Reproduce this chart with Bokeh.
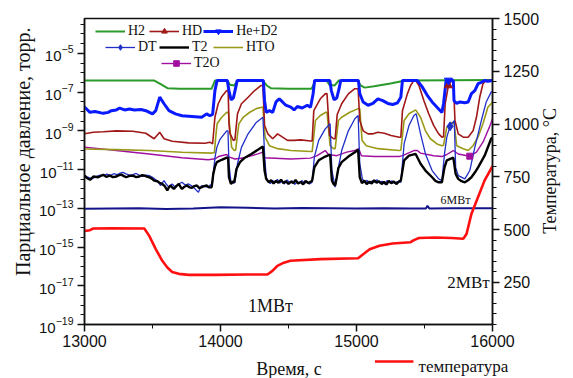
from math import pi

from bokeh.embed import file_html
from bokeh.layouts import column
from bokeh.models import (FixedTicker, Label, Legend, LegendItem, LinearAxis,
                          LinearScale, Range1d, Title)
from bokeh.plotting import figure
from bokeh.resources import INLINE

# ---------------------------------------------------------------- data
# partial pressures, torr (left, log axis)
h2_t = [13000, 13510, 13560, 13610, 13700, 13935, 13960, 14050, 14070, 14100,
        14130, 14310, 14340, 14370, 14500, 14670, 14700, 14780, 14800, 14840,
        14870, 15010, 15030, 15060, 15130, 15250, 15340, 15380, 16000]
h2_p = [4.0e-7, 4.0e-7, 2.6e-7, 1.6e-7, 1.5e-7, 1.5e-7, 4.0e-7, 4.0e-7, 2.4e-7, 2.2e-7,
        4.0e-7, 4.0e-7, 2.2e-7, 1.6e-7, 1.5e-7, 1.5e-7, 4.0e-7, 4.0e-7, 2.4e-7, 2.2e-7,
        4.0e-7, 4.0e-7, 2.2e-7, 1.7e-7, 2.0e-7, 2.8e-7, 3.7e-7, 4.0e-7, 4.2e-7]

hd_t = [13000, 13065, 13138, 13234, 13355, 13451, 13512, 13553, 13585, 13645,
        13766, 13886, 13922, 13942, 13959, 13983, 14010, 14046, 14056, 14063,
        14070, 14094, 14106, 14125, 14154, 14203, 14251, 14299, 14312, 14324,
        14348, 14384, 14420, 14456, 14493, 14541, 14589, 14662, 14674, 14686,
        14734, 14770, 14783, 14802, 14831, 14843, 14858, 14891, 14940, 14988,
        15012, 15024, 15049, 15085, 15121, 15157, 15205, 15254, 15314, 15326,
        15338, 15374, 15398, 15422, 15435, 15459, 15495, 15531, 15567, 15604,
        15628, 15640, 15652, 15676, 15700, 15712, 15724, 15748, 15785, 15821,
        15857, 15882, 15906, 15930, 15954, 16000]
hd_p = [7.0e-10, 8.5e-10, 9.0e-10, 1.0e-9, 9.5e-10, 7.5e-10, 3.9e-10, 8.5e-10, 3.9e-10, 2.9e-10,
        2.4e-10, 2.3e-10, 2.6e-10, 2.1e-10, 5e-9, 2.5e-8, 6e-8, 1.2e-7, 1.2e-7, 2e-9,
        7.2e-10, 3.2e-10, 3.5e-10, 7.6e-9, 2.5e-8, 5.4e-8, 1.2e-7, 2.2e-7, 2.2e-7, 1.9e-9,
        7.0e-10, 3.9e-10, 7.0e-10, 4.7e-10, 3.2e-10, 3.2e-10, 3.4e-10, 3.0e-10, 3.0e-10, 1.1e-8,
        4.5e-8, 8.1e-8, 8.5e-8, 5.8e-10, 3.9e-10, 3.9e-10, 7e-9, 2.5e-8, 8.1e-8, 1.5e-7,
        1.5e-7, 3.4e-9, 1.0e-9, 7.0e-10, 7.0e-10, 8.5e-10, 7.5e-10, 5.8e-10, 4.7e-10, 4.7e-10,
        1.1e-8, 8.1e-8, 2.2e-7, 4e-7, 4e-7, 2.2e-7, 3.7e-8, 7.6e-9, 1.9e-9, 7.0e-10,
        4.7e-10, 5e-10, 2.5e-8, 2.2e-7, 4e-7, 4e-7, 3.4e-9, 7.0e-10, 4.7e-10, 4.7e-10,
        1.0e-9, 5e-9, 5.4e-8, 2.7e-7, 4e-7, 4e-7]

hed2_t = [13000, 13040, 13077, 13138, 13174, 13198, 13234, 13259, 13295, 13331,
          13367, 13415, 13451, 13500, 13524, 13553, 13585, 13621, 13669, 13717,
          13790, 13862, 13898, 13922, 13942, 13959, 13975, 14050, 14062, 14078,
          14095, 14110, 14123, 14315, 14324, 14336, 14360, 14384, 14408, 14432,
          14456, 14480, 14517, 14541, 14565, 14601, 14638, 14662, 14681, 14692,
          14804, 14815, 14835, 14855, 14872, 14884, 15014, 15024, 15049, 15085,
          15121, 15157, 15193, 15230, 15266, 15302, 15326, 15338, 15447, 15483,
          15519, 15556, 15592, 15616, 15628, 15640, 15659, 15712, 15717, 15737,
          15761, 15797, 15821, 15845, 15870, 15894, 15918, 15942, 15966, 16000]
hed2_p = [1.7e-8, 9e-9, 1.0e-8, 8e-9, 9e-9, 1.1e-8, 1.2e-8, 1.5e-8, 1.2e-8, 1.35e-8,
          1.2e-8, 1.25e-8, 1.1e-8, 7.5e-9, 1.1e-8, 5.5e-8, 2.5e-8, 1.1e-8, 7.5e-9, 6e-9,
          5.5e-9, 5e-9, 7.5e-9, 6e-9, 7e-9, 1.2e-7, 4e-7, 4e-7, 1.2e-7, 4e-8,
          5e-8, 1.5e-7, 4e-7, 4e-7, 3.6e-8, 9e-9, 1.1e-8, 9e-9, 3.1e-8, 4.5e-8,
          3.1e-8, 2.1e-8, 1.66e-8, 1.2e-8, 1.8e-8, 1.5e-8, 2.1e-8, 1.66e-8, 8.3e-8, 4e-7,
          4e-7, 1.2e-7, 4e-8, 5e-8, 1.5e-7, 4e-7, 4e-7, 8.3e-8, 3.1e-8, 2.1e-8,
          2.6e-8, 4.5e-8, 3.6e-8, 2.6e-8, 2.3e-8, 2.8e-8, 5.5e-8, 4e-7, 4e-7, 1.86e-7,
          7e-8, 3.1e-8, 1.66e-8, 1.1e-8, 9e-9, 2.5e-8, 4e-7, 4e-7, 3.6e-8, 2.6e-8,
          3.1e-8, 2.8e-8, 3.1e-8, 8.3e-8, 1.2e-7, 2.7e-7, 3.2e-7, 4e-7, 3.6e-7, 4e-7]

dt_t = [13000, 13020, 13053, 13089, 13115, 13138, 13165, 13190, 13215, 13240,
        13262, 13283, 13305, 13330, 13355, 13380, 13405, 13428, 13452, 13476,
        13500, 13524, 13545, 13560, 13575, 13585, 13600, 13621, 13633, 13645,
        13663, 13681, 13700, 13717, 13740, 13766, 13790, 13814, 13826, 13838,
        13850, 13862, 13885, 13910, 13925, 13939, 13949, 13960, 13973, 13995,
        14009, 14046, 14055, 14062, 14077, 14094, 14106, 14125, 14154, 14203,
        14263, 14312, 14324, 14336, 14350, 14366, 14383, 14400, 14418, 14436,
        14453, 14470, 14490, 14508, 14527, 14545, 14563, 14580, 14600, 14618,
        14636, 14655, 14674, 14690, 14722, 14770, 14806, 14819, 14843, 14867,
        14891, 14940, 14988, 15012, 15024, 15043, 15060, 15078, 15096, 15115,
        15133, 15150, 15170, 15188, 15206, 15225, 15243, 15262, 15280, 15300,
        15326, 15350, 15386, 15422, 15439, 15471, 15507, 15556, 15604, 15628,
        15647, 15664, 15688, 15719, 15729, 15748, 15797, 15833, 15870, 15918,
        15954, 15990, 16000]
dt_p = [4.9e-12, 4.2e-12, 3.3e-12, 4.4e-12, 5.2e-12, 4.9e-12, 5.8e-12, 5.0e-12, 6.1e-12, 5.4e-12,
        6.5e-12, 7.2e-12, 6.0e-12, 5.1e-12, 5.5e-12, 6.3e-12, 5.0e-12, 4.4e-12, 5.2e-12, 4.9e-12,
        4.0e-12, 2.95e-12, 2.1e-12, 1.5e-12, 2.2e-12, 2.7e-12, 1.8e-12, 1.23e-12, 1.6e-12, 1.8e-12,
        1.3e-12, 1.5e-12, 1.9e-12, 2.2e-12, 1.6e-12, 1.8e-12, 1.4e-12, 1.0e-12, 8e-13, 6.8e-13,
        1.1e-12, 1.5e-12, 1.3e-12, 1.23e-12, 1.6e-12, 1.5e-12, 8.9e-12, 4.4e-11, 1.4e-10, 3.5e-10,
        4.7e-10, 1.0e-9, 1.0e-9, 2.0e-11, 2.2e-12, 2.0e-12, 2.2e-12, 2.0e-11, 1.4e-10, 7.0e-10,
        2.7e-9, 5.0e-9, 6.4e-11, 4.0e-12, 2.5e-12, 1.9e-12, 2.7e-12, 2.2e-12, 3.1e-12, 2.0e-12,
        2.6e-12, 1.8e-12, 2.9e-12, 2.1e-12, 2.6e-12, 1.7e-12, 2.4e-12, 2.0e-12, 2.7e-12, 1.9e-12,
        2.5e-12, 1.8e-12, 2.2e-12, 4.4e-11, 3.2e-10, 1.26e-9, 2.3e-9, 8.9e-12, 1.23e-12, 1.3e-11,
        9.6e-11, 1.0e-9, 4.2e-9, 6.2e-9, 2.0e-11, 3.3e-12, 2.1e-12, 2.8e-12, 1.9e-12, 2.6e-12,
        2.2e-12, 3.0e-12, 2.0e-12, 2.5e-12, 1.8e-12, 2.7e-12, 2.1e-12, 2.6e-12, 1.9e-12, 2.4e-12,
        2.2e-12, 2.1e-10, 1.9e-9, 6.2e-9, 7.6e-9, 7.0e-10, 6.4e-11, 8.9e-12, 3.3e-12, 2.7e-12,
        6.4e-11, 4.7e-10, 1.7e-9, 3.4e-9, 1.3e-11, 4.9e-12, 3.3e-12, 8.9e-12, 1.4e-10, 3.4e-9,
        3.1e-8, 1.0e-7, 1.1e-7]

t2_t = [13000, 13017, 13041, 13065, 13101, 13138, 13160, 13186, 13210, 13234,
        13250, 13270, 13290, 13307, 13330, 13355, 13380, 13403, 13420, 13440,
        13460, 13476, 13495, 13512, 13536, 13555, 13572, 13590, 13609, 13620,
        13633, 13645, 13657, 13675, 13693, 13705, 13717, 13735, 13754, 13772,
        13790, 13808, 13826, 13845, 13862, 13880, 13898, 13915, 13935, 13947,
        13960, 13973, 14009, 14046, 14056, 14062, 14077, 14090, 14101, 14118,
        14143, 14179, 14227, 14275, 14312, 14324, 14336, 14355, 14372, 14390,
        14408, 14425, 14445, 14462, 14480, 14500, 14518, 14535, 14552, 14570,
        14590, 14608, 14625, 14645, 14665, 14674, 14690, 14722, 14770, 14806,
        14819, 14831, 14843, 14855, 14867, 14891, 14940, 14988, 15012, 15024,
        15040, 15058, 15075, 15095, 15112, 15130, 15148, 15166, 15185, 15202,
        15220, 15238, 15256, 15275, 15295, 15314, 15326, 15350, 15386, 15435,
        15471, 15507, 15556, 15580, 15604, 15628, 15647, 15664, 15712, 15729,
        15748, 15772, 15797, 15820, 15845, 15870, 15894, 15942, 15990, 16000]
t2_p = [4.9e-12, 3.7e-12, 2.95e-12, 4.4e-12, 4.0e-12, 5.4e-12, 4.2e-12, 4.9e-12, 4.1e-12, 4.4e-12,
        5.0e-12, 5.5e-12, 4.6e-12, 4.0e-12, 4.7e-12, 4.8e-12, 4.1e-12, 4.4e-12, 5.1e-12, 4.9e-12,
        4.3e-12, 4.0e-12, 3.4e-12, 2.7e-12, 2.5e-12, 2.0e-12, 1.8e-12, 1.4e-12, 8.3e-13, 1.2e-12,
        1.5e-12, 1.2e-12, 1.0e-12, 1.4e-12, 1.8e-12, 1.3e-12, 1.0e-12, 1.3e-12, 1.5e-12, 1.2e-12,
        1.15e-12, 1.4e-12, 1.5e-12, 1.1e-12, 1.23e-12, 1.4e-12, 1.5e-12, 1.2e-12, 1.23e-12, 6.0e-12,
        1.5e-11, 2.4e-11, 3.2e-11, 4.1e-11, 4.1e-11, 4.0e-12, 1.8e-12, 2.4e-12, 2.2e-12, 1.1e-11,
        2.4e-11, 4.1e-11, 6.4e-11, 1.05e-10, 1.55e-10, 8.9e-12, 3.3e-12, 2.2e-12, 2.8e-12, 1.9e-12,
        2.6e-12, 2.1e-12, 3.0e-12, 2.0e-12, 2.5e-12, 1.8e-12, 2.4e-12, 2.0e-12, 2.9e-12, 1.9e-12,
        2.3e-12, 1.7e-12, 2.6e-12, 2.0e-12, 2.4e-12, 2.7e-12, 1.3e-11, 3.0e-11, 4.7e-11, 6.0e-11,
        2.7e-12, 1.8e-12, 1.5e-12, 4e-12, 1.2e-11, 2.4e-11, 4.7e-11, 7.9e-11, 1.05e-10, 4.0e-12,
        2.0e-12, 2.7e-12, 1.8e-12, 2.4e-12, 1.9e-12, 2.8e-12, 2.1e-12, 2.5e-12, 1.8e-12, 2.3e-12,
        1.7e-12, 2.6e-12, 2.0e-12, 2.4e-12, 1.8e-12, 2.5e-12, 2.7e-12, 3.0e-11, 5.2e-11, 6.4e-11,
        2.0e-11, 8.9e-12, 4.0e-12, 2.6e-12, 2.2e-12, 2.2e-12, 1.3e-11, 3.0e-11, 4.1e-11, 6.0e-12,
        3.3e-12, 2.5e-12, 2.2e-12, 2.8e-12, 4.0e-12, 7e-12, 1.3e-11, 5.2e-11, 3.9e-10, 4.5e-10]

hto_t = [13000, 13234, 13476, 13717, 13935, 13955, 13965, 13975, 14009, 14046,
         14058, 14082, 14101, 14111, 14135, 14167, 14215, 14263, 14304, 14312,
         14328, 14360, 14420, 14517, 14662, 14674, 14698, 14734, 14775, 14783,
         14806, 14831, 14843, 14867, 14891, 14951, 15012, 15024, 15041, 15072,
         15157, 15314, 15326, 15350, 15386, 15435, 15471, 15507, 15543, 15592,
         15628, 15640, 15664, 15700, 15717, 15737, 15785, 15821, 15857, 15893,
         15930, 15966, 16000]
hto_p = [1.15e-10, 1.07e-10, 9.6e-11, 7.9e-11, 7.1e-11, 7.5e-11, 5e-10, 2.3e-9, 5.0e-9, 9.1e-9,
         9.0e-9, 1.4e-10, 9.6e-11, 1.0e-10, 2.3e-9, 5.0e-9, 9.1e-9, 1.4e-8, 1.66e-8, 1.66e-8,
         4.7e-10, 1.7e-10, 1.2e-10, 9.6e-11, 8.5e-11, 8.5e-11, 3.4e-9, 6.2e-9, 9.1e-9, 9.1e-9,
         1.7e-10, 1.2e-10, 1.2e-10, 3.4e-9, 5.0e-9, 9.1e-9, 1.4e-8, 1.4e-8, 3.2e-10, 1.7e-10,
         1.2e-10, 9.6e-11, 1.0e-10, 3.4e-9, 7.6e-9, 1.2e-8, 5.0e-9, 1.0e-9, 3.9e-10, 2.1e-10,
         1.7e-10, 1.8e-10, 1.55e-9, 2.7e-9, 2.7e-9, 1.7e-10, 1.2e-10, 9.6e-11, 1.7e-10, 4.7e-10,
         2.3e-9, 1.66e-8, 3.0e-8]

t2o_t = [13000, 13234, 13476, 13717, 13910, 13959, 13985, 14046, 14060, 14106,
         14178, 14275, 14312, 14324, 14517, 14662, 14710, 14770, 14794, 14855,
         14891, 14928, 14988, 15017, 15036, 15133, 15314, 15338, 15422, 15447,
         15471, 15567, 15628, 15664, 15712, 15748, 15833, 15882, 15930, 15978,
         16000]
t2o_p = [1.45e-10, 9.6e-11, 6.4e-11, 4.1e-11, 3.2e-11, 3.6e-11, 4.7e-11, 6.0e-11, 4.5e-11, 3.5e-11,
         4.1e-11, 6.4e-11, 7.9e-11, 4.1e-11, 3.5e-11, 3.9e-11, 5.2e-11, 9.6e-11, 6.0e-11, 5.2e-11,
         6.4e-11, 7.9e-11, 9.6e-11, 1.2e-10, 5.2e-11, 4.7e-11, 4.7e-11, 5.2e-11, 9.6e-11, 9.6e-11,
         7.1e-11, 5.2e-11, 4.7e-11, 6.0e-11, 9.6e-11, 6.4e-11, 4.9e-11, 7.9e-11, 2.6e-10, 1.6e-9,
         4.2e-9]

# symbol positions along the curves
hd_mark_t, hd_mark_p = [15676], [2.2e-7]
hed2_mark_t, hed2_mark_p = [15676], [4e-7]
dt_mark_t, dt_mark_p = [15688], [1.7e-9]
t2o_mark_t, t2o_mark_p = [15833], [4.9e-11]

# right axis, degrees C
level_t = [13000, 13200, 13400, 13600, 13800, 14000, 14200, 14400, 14600, 14800,
           15000, 15200, 15400, 15510, 15522, 15535, 15700, 16000]
level_v = [598, 600, 601, 597, 600, 606, 603, 600, 602, 601,
           600, 601, 600, 600, 612, 600, 601, 601]

temp_t = [13000, 13040, 13065, 13200, 13440, 13476, 13524, 13572, 13609, 13645,
          13693, 13766, 13959, 14200, 14345, 14382, 14418, 14466, 14514, 14734,
          15012, 15049, 15097, 15169, 15266, 15398, 15422, 15459, 15580, 15700,
          15785, 15809, 15845, 15894, 15942, 16000]
temp_v = [493, 497, 505, 506, 505, 470, 407, 352, 320, 299,
          290, 285, 285, 287, 287, 304, 328, 343, 352, 360,
          364, 383, 407, 423, 434, 440, 450, 460, 462, 460,
          456, 479, 574, 654, 733, 800]

x_ticks = [13000, 14000, 15000, 16000]
x_minor = [13500, 14500, 15500]
p_ticks = [10.0 ** e for e in range(-19, -4, 2)]
p_minor = [10.0 ** (k / 2) for k in range(-38, -5)]
t_ticks = [250, 500, 750, 1000, 1250, 1500]
t_minor = list(range(50, 1501, 50))

SERIF = "Liberation Serif"
SANS = "Liberation Sans"
INK = "#111111"
C_H2, C_HD, C_HED2 = "#2a9a2a", "#a01818", "#0a1aff"
C_DT, C_T2, C_HTO, C_T2O = "#1f2fc8", "black", "#9a9a18", "#a010a0"
C_LEVEL, C_TEMP = "#14148a", "#ff1010"

# layout constants (pixels)
LEFT, RIGHT = 84, 76           # side borders shared by both rows
TITLE_START_T = 480            # temperature level where the right title begins
STRIP_H = 24                   # height of the row under the time axis
KEY_X, KEY_Y = (378, 417), 17  # temperature key swatch inside that row

# ---------------------------------------------------------------- main plot
p = figure(width=573, height=378 - STRIP_H, output_backend="svg",
           toolbar_location=None,
           x_range=Range1d(13000, 16000), y_range=Range1d(1e-19, 10 ** -3.2),
           y_axis_type="log",
           min_border_left=LEFT, min_border_right=RIGHT, min_border_top=18,
           min_border_bottom=30)
p.extra_y_ranges = {"temp": Range1d(50, 1500)}
p.extra_y_scales = {"temp": LinearScale()}
p.grid.visible = False
p.outline_line_color = INK
p.outline_line_width = 1.5

right = LinearAxis(y_range_name="temp")
p.add_layout(right, "right")

p.xaxis[0].ticker = FixedTicker(ticks=x_ticks, minor_ticks=x_minor)
p.yaxis[0].ticker = FixedTicker(ticks=p_ticks, minor_ticks=p_minor)
right.ticker = FixedTicker(ticks=t_ticks, minor_ticks=t_minor)

for ax in (p.xaxis[0], p.yaxis[0], right):
    ax.axis_line_width = 1.5
    ax.axis_line_color = INK
    ax.major_tick_line_width = 1.5
    ax.major_tick_line_color = INK
    ax.minor_tick_line_width = 1
    ax.minor_tick_line_color = INK
    ax.major_tick_in = 0
    ax.major_tick_out = 7
    ax.minor_tick_in = 0
    ax.minor_tick_out = 4
    ax.major_label_text_font = SANS
    ax.major_label_text_font_size = "16px"
    ax.major_label_text_color = INK
    ax.major_label_standoff = 4
p.yaxis[0].major_label_text_font_size = "15px"
p.xaxis[0].major_label_standoff = 3


def text_axis(ticks, labels, size, standoff, **kw):
    """An axis without line or ticks that only carries text labels."""
    return LinearAxis(ticker=FixedTicker(ticks=ticks, minor_ticks=[]),
                      major_label_overrides=dict(zip(ticks, labels)),
                      axis_line_color=None, major_tick_line_color=None,
                      minor_tick_line_color=None, major_tick_out=0,
                      minor_tick_out=0, major_label_standoff=standoff,
                      major_label_text_font=SERIF,
                      major_label_text_font_size=size,
                      major_label_text_color=INK, **kw)


# right axis title, reading upwards
p.add_layout(text_axis([TITLE_START_T], ["Температура, °C"], "18px", 8,
                       y_range_name="temp", major_label_orientation=pi / 2),
             "right")

# left axis title
p.add_layout(Title(text="Парциальное давление, торр.", align="right", offset=9,
                   vertical_align="middle", standoff=4, text_font=SERIF,
                   text_font_size="20px", text_font_style="normal",
                   text_color=INK), "left")

# ---------------------------------------------------------------- curves
r_h2 = p.line(h2_t, h2_p, line_color=C_H2, line_width=2)
r_t2o = p.line(t2o_t, t2o_p, line_color=C_T2O, line_width=1.4)
r_hto = p.line(hto_t, hto_p, line_color=C_HTO, line_width=1.6)
r_hd = p.line(hd_t, hd_p, line_color=C_HD, line_width=1.6)
r_dt = p.line(dt_t, dt_p, line_color=C_DT, line_width=1.3)
r_t2 = p.line(t2_t, t2_p, line_color=C_T2, line_width=2.4)
r_hed2 = p.line(hed2_t, hed2_p, line_color=C_HED2, line_width=3)
p.line(level_t, level_v, line_color=C_LEVEL, line_width=2, y_range_name="temp")
p.line(temp_t, temp_v, line_color=C_TEMP, line_width=2.6, y_range_name="temp")

m_h2 = p.scatter([], [], marker="circle", size=7, fill_color=C_H2, line_color=C_H2)
m_hd = p.scatter(hd_mark_t, hd_mark_p, marker="triangle", size=8,
                 fill_color=C_HD, line_color=C_HD)
m_hed2 = p.scatter(hed2_mark_t, hed2_mark_p, marker="inverted_triangle", size=8,
                   fill_color=C_HED2, line_color=C_HED2)
m_dt = p.scatter(dt_mark_t, dt_mark_p, marker="diamond", size=9,
                 fill_color=C_DT, line_color=C_DT)
m_t2 = p.scatter([], [], marker="triangle", angle=pi / 2, size=8,
                 fill_color=C_T2, line_color=C_T2)
m_t2o = p.scatter(t2o_mark_t, t2o_mark_p, marker="square", size=6,
                  fill_color=C_T2O, line_color=C_T2O)


def make_legend(items, loc):
    return Legend(items=items, location=loc, orientation="horizontal",
                  glyph_width=30, glyph_height=14, label_height=14,
                  label_standoff=3, spacing=1, padding=0, margin=0,
                  label_text_font=SERIF, label_text_font_size="14px",
                  label_text_color=INK,
                  background_fill_alpha=0, border_line_alpha=0)


p.add_layout(make_legend([LegendItem(label="H2", renderers=[r_h2, m_h2]),
                          LegendItem(label="HD", renderers=[r_hd, m_hd]),
                          LegendItem(label="He+D2", renderers=[r_hed2, m_hed2])],
                         (11, 285)))
p.add_layout(make_legend([LegendItem(label="DT", renderers=[r_dt, m_dt]),
                          LegendItem(label="T2", renderers=[r_t2, m_t2]),
                          LegendItem(label="HTO", renderers=[r_hto])],
                         (21, 269)))
p.add_layout(make_legend([LegendItem(label="T2O", renderers=[r_t2o, m_t2o])],
                         (77, 253)))


def add_text(fig, x, y, text, size, units="screen"):
    fig.add_layout(Label(x=x, y=y, x_units=units, y_units=units, text=text,
                         text_font=SERIF, text_font_size=size, text_color=INK,
                         text_align="center", text_baseline="middle"))


add_text(p, 186, 19, "1МВт", "18px")
add_text(p, 384, 42, "2МВт", "17px")
add_text(p, 371, 125, "6МВт", "12px")

# ---------------------------------------------------------------- row below:
# time-axis title and the temperature key (pixel-like ranges)
strip = figure(width=573, height=STRIP_H, output_backend="svg",
               toolbar_location=None,
               x_range=Range1d(LEFT, 573 - RIGHT), y_range=Range1d(0, STRIP_H),
               x_axis_location=None, y_axis_location=None,
               min_border_left=LEFT, min_border_right=RIGHT,
               min_border_top=0, min_border_bottom=0)
strip.outline_line_color = None
strip.grid.visible = False
strip.line(list(KEY_X), [KEY_Y, KEY_Y], line_color=C_TEMP, line_width=2.6)
add_text(strip, 291, 10, "Время, с", "18px", units="data")
strip.add_layout(text_axis([KEY_Y], ["температура"], "17px",
                           KEY_X[1] + 6 - (573 - RIGHT)), "right")

open("out.html", "w").write(file_html(column(p, strip), INLINE))
